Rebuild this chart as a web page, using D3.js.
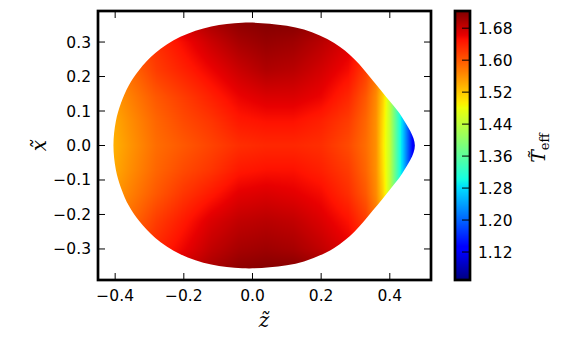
<!DOCTYPE html>
<html>
<head>
<meta charset="utf-8">
<script src="https://cdn.jsdelivr.net/npm/d3@7"></script>
<style>
  body { margin: 0; background: #fff; }
  text { font-family: "DejaVu Sans", sans-serif; }
</style>
</head>
<body>
<div id="chart"></div>
<script>
// outline of the upper half (z, x), from the left point to the tip; the lower half mirrors it
var outlineZ = [-0.405, -0.398, -0.383, -0.36, -0.33, -0.283, -0.21, -0.12, -0.03, 0.05, 0.15, 0.238, 0.297, 0.351, 0.40, 0.437, 0.473];
var outlineX = [0, 0.07, 0.123, 0.175, 0.219, 0.268, 0.315, 0.345, 0.356, 0.353, 0.336, 0.297, 0.25, 0.188, 0.128, 0.08, 0];

// temperature grid: columns along z, rows along x (top to bottom)
var gridZ = [-0.42, -0.36, -0.28, -0.2, -0.12, -0.04, 0.04, 0.12, 0.2, 0.28, 0.33, 0.36, 0.38, 0.40, 0.42, 0.44, 0.46, 0.48];
var gridX = [0.36, 0.30, 0.22, 0.14, 0.07, 0, -0.07, -0.14, -0.22, -0.30, -0.36];
var tGrid = [
  [1.60, 1.62, 1.65, 1.68, 1.70, 1.715, 1.72, 1.72, 1.71, 1.69, 1.66, 1.62, 1.58, 1.50, 1.40, 1.30, 1.20, 1.10],
  [1.58, 1.60, 1.63, 1.655, 1.68, 1.70, 1.71, 1.705, 1.69, 1.67, 1.64, 1.60, 1.56, 1.48, 1.38, 1.28, 1.18, 1.08],
  [1.565, 1.585, 1.62, 1.64, 1.66, 1.68, 1.695, 1.69, 1.675, 1.655, 1.62, 1.58, 1.53, 1.45, 1.35, 1.26, 1.16, 1.07],
  [1.545, 1.57, 1.60, 1.62, 1.64, 1.66, 1.67, 1.67, 1.66, 1.635, 1.60, 1.565, 1.515, 1.44, 1.345, 1.255, 1.155, 1.07],
  [1.535, 1.56, 1.59, 1.61, 1.625, 1.645, 1.65, 1.65, 1.64, 1.62, 1.59, 1.56, 1.505, 1.445, 1.35, 1.26, 1.16, 1.07],
  [1.53, 1.555, 1.585, 1.60, 1.615, 1.63, 1.635, 1.635, 1.63, 1.61, 1.585, 1.56, 1.50, 1.447, 1.35, 1.26, 1.165, 1.065],
  [1.535, 1.56, 1.59, 1.61, 1.625, 1.645, 1.65, 1.65, 1.64, 1.62, 1.59, 1.56, 1.505, 1.445, 1.35, 1.26, 1.16, 1.07],
  [1.545, 1.57, 1.60, 1.625, 1.645, 1.665, 1.67, 1.665, 1.655, 1.63, 1.60, 1.565, 1.515, 1.44, 1.345, 1.255, 1.155, 1.07],
  [1.565, 1.585, 1.62, 1.645, 1.67, 1.685, 1.69, 1.685, 1.67, 1.65, 1.62, 1.58, 1.53, 1.45, 1.35, 1.26, 1.16, 1.07],
  [1.58, 1.60, 1.635, 1.66, 1.685, 1.70, 1.705, 1.70, 1.685, 1.665, 1.64, 1.60, 1.56, 1.48, 1.38, 1.28, 1.18, 1.08],
  [1.60, 1.62, 1.65, 1.68, 1.70, 1.715, 1.72, 1.72, 1.71, 1.69, 1.66, 1.62, 1.58, 1.50, 1.40, 1.30, 1.20, 1.10]
];

var zTicks = [-0.4, -0.2, 0.0, 0.2, 0.4];
var xTicks = [-0.3, -0.2, -0.1, 0.0, 0.1, 0.2, 0.3];
var cbTicks = [1.12, 1.20, 1.28, 1.36, 1.44, 1.52, 1.60, 1.68];
var tRange = [1.05, 1.723];

var W = 570, H = 340;
var margin = {top: 11, left: 98, right: 139, bottom: 60};
var width = W - margin.left - margin.right,
    height = H - margin.top - margin.bottom;

var x = d3.scaleLinear().domain([-0.45, 0.52]).range([0, width]);
var y = d3.scaleLinear().domain([-0.39, 0.39]).range([height, 0]);

// matplotlib jet
var jetR = d3.scaleLinear().domain([0, 0.35, 0.66, 0.89, 1]).range([0, 0, 1, 1, 0.5]).clamp(true);
var jetG = d3.scaleLinear().domain([0, 0.125, 0.375, 0.64, 0.91, 1]).range([0, 0, 1, 1, 0, 0]).clamp(true);
var jetB = d3.scaleLinear().domain([0, 0.11, 0.34, 0.65, 1]).range([0.5, 1, 1, 0, 0]).clamp(true);
var norm = d3.scaleLinear().domain(tRange).range([0, 1]).clamp(true);
function jet(v) {
  var t = norm(v);
  return [Math.round(jetR(t) * 255), Math.round(jetG(t) * 255), Math.round(jetB(t) * 255)];
}

var svg = d3.select("#chart").append("svg")
  .attr("width", W)
  .attr("height", H);

var g = svg.append("g")
  .attr("transform", "translate(" + margin.left + "," + margin.top + ")");

// outline path
var outline = outlineZ.map(function(d, i) { return [d, outlineX[i]]; });
var lower = outline.slice(1, -1).reverse().map(function(d) { return [d[0], -d[1]]; });
var shape = outline.concat(lower);
var line = d3.line()
  .x(function(d) { return x(d[0]); })
  .y(function(d) { return y(d[1]); })
  .curve(d3.curveCatmullRomClosed);

g.append("clipPath").attr("id", "shapeClip")
  .append("path").attr("d", line(shape));

// field image
var fz = d3.scaleLinear().domain(gridZ).range(d3.range(gridZ.length)).clamp(true);
var fx = d3.scaleLinear().domain(gridX).range(d3.range(gridX.length)).clamp(true);
function field(zv, xv) {
  var a = fz(zv), b = fx(xv);
  var i = Math.min(Math.floor(a), gridZ.length - 2), j = Math.min(Math.floor(b), gridX.length - 2);
  var u = a - i, v = b - j;
  return (1 - u) * (1 - v) * tGrid[j][i] + u * (1 - v) * tGrid[j][i + 1] +
         (1 - u) * v * tGrid[j + 1][i] + u * v * tGrid[j + 1][i + 1];
}
var canvas = document.createElement("canvas");
canvas.width = width; canvas.height = height;
var ctx = canvas.getContext("2d");
var img = ctx.createImageData(width, height);
for (var py = 0; py < height; py++) {
  for (var px = 0; px < width; px++) {
    var c = jet(field(x.invert(px + 0.5), y.invert(py + 0.5)));
    var k = (py * width + px) * 4;
    img.data[k] = c[0]; img.data[k + 1] = c[1]; img.data[k + 2] = c[2]; img.data[k + 3] = 255;
  }
}
ctx.putImageData(img, 0, 0);
g.append("image")
  .attr("width", width).attr("height", height)
  .attr("href", canvas.toDataURL())
  .attr("clip-path", "url(#shapeClip)");

// ticks, inward on all four sides
var tickLen = 7;
g.selectAll(".zt").data(zTicks).enter().append("path")
  .attr("d", function(d) {
    return "M" + x(d) + "," + height + "v" + (-tickLen) + "M" + x(d) + ",0v" + tickLen;
  })
  .attr("stroke", "#000").attr("stroke-width", 1);
g.selectAll(".xt").data(xTicks).enter().append("path")
  .attr("d", function(d) {
    return "M0," + y(d) + "h" + tickLen + "M" + width + "," + y(d) + "h" + (-tickLen);
  })
  .attr("stroke", "#000").attr("stroke-width", 1);

function fmt(d) { return d3.format(".1f")(d).replace("-", "\u2212"); }
g.selectAll(".zl").data(zTicks).enter().append("text")
  .attr("x", function(d) { return x(d); })
  .attr("y", height + 21)
  .attr("text-anchor", "middle")
  .attr("font-size", "15.5px")
  .text(fmt);
g.selectAll(".xl").data(xTicks).enter().append("text")
  .attr("x", -7)
  .attr("y", function(d) { return y(d) + 5.5; })
  .attr("text-anchor", "end")
  .attr("font-size", "15.5px")
  .text(fmt);

g.append("rect")
  .attr("width", width).attr("height", height)
  .attr("fill", "none").attr("stroke", "#000").attr("stroke-width", 2.7);

// axis labels: italic serif letter with a combining tilde
svg.append("text")
  .attr("x", 264)
  .attr("y", 327)
  .attr("text-anchor", "middle")
  .style("font-family", "DejaVu Serif, serif")
  .style("font-style", "italic")
  .attr("font-size", "20px")
  .text("z\u0303");
svg.append("text")
  .attr("transform", "translate(46," + (margin.top + height / 2) + ") rotate(-90)")
  .attr("text-anchor", "middle")
  .style("font-family", "DejaVu Serif, serif")
  .style("font-style", "italic")
  .attr("font-size", "20px")
  .text("x\u0303");

// colorbar
var cbX = 455, cbW = 15;
var cy = d3.scaleLinear().domain(tRange).range([margin.top + height, margin.top]);
var cbCanvas = document.createElement("canvas");
cbCanvas.width = 1; cbCanvas.height = height;
var cctx = cbCanvas.getContext("2d");
var cimg = cctx.createImageData(1, height);
for (var r = 0; r < height; r++) {
  var cc = jet(cy.invert(margin.top + r + 0.5));
  cimg.data[r * 4] = cc[0]; cimg.data[r * 4 + 1] = cc[1]; cimg.data[r * 4 + 2] = cc[2]; cimg.data[r * 4 + 3] = 255;
}
cctx.putImageData(cimg, 0, 0);
svg.append("image")
  .attr("x", cbX).attr("y", margin.top)
  .attr("width", cbW).attr("height", height)
  .attr("preserveAspectRatio", "none")
  .style("image-rendering", "pixelated")
  .attr("href", cbCanvas.toDataURL());

svg.selectAll(".ct").data(cbTicks).enter().append("path")
  .attr("d", function(d) { return "M" + (cbX + cbW) + "," + cy(d) + "h-8"; })
  .attr("stroke", "#000").attr("stroke-width", 1);
svg.selectAll(".cl").data(cbTicks).enter().append("text")
  .attr("x", cbX + cbW + 8)
  .attr("y", function(d) { return cy(d) + 5.5; })
  .attr("font-size", "15.5px")
  .text(function(d) { return d3.format(".2f")(d); });
svg.append("rect")
  .attr("x", cbX).attr("y", margin.top)
  .attr("width", cbW).attr("height", height)
  .attr("fill", "none").attr("stroke", "#000").attr("stroke-width", 2.7);

// colorbar label: T with tilde and subscript eff
var cbLabel = svg.append("text")
  .attr("transform", "translate(545,148) rotate(-90)")
  .attr("text-anchor", "middle")
  .style("font-family", "DejaVu Serif, serif");
cbLabel.append("tspan")
  .style("font-style", "italic")
  .attr("font-size", "19px")
  .text("T\u0303");
cbLabel.append("tspan")
  .attr("font-size", "13px")
  .attr("dy", 4)
  .text("eff");
</script>
</body>
</html>
